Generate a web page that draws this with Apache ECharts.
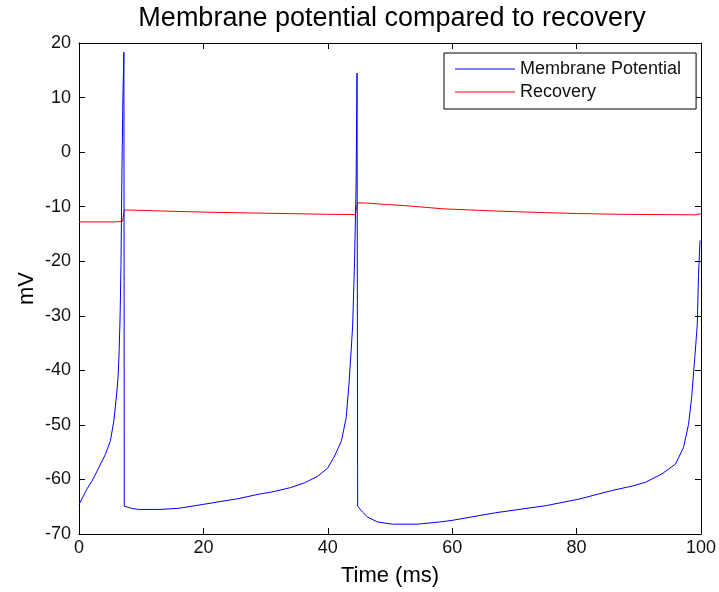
<!DOCTYPE html>
<html>
<head>
<meta charset="utf-8">
<script src="https://cdn.jsdelivr.net/npm/echarts@6/dist/echarts.min.js"></script>
<style>html,body{margin:0;padding:0;background:#fff;}#c{width:719px;height:592px;}</style>
</head>
<body>
<div id="c"></div>
<script>
// Membrane potential (ms, mV)
var vTime = [0, 1.3, 2.1, 3.2, 4.25, 5.05, 5.6, 6.1, 6.3, 6.45, 6.6, 6.75, 6.9, 7.06, 7.22, 7.28,
  8.5, 9.6, 13, 16, 19.8, 25.7, 28.9, 31.0, 34, 36.3, 38.4, 40.0, 41.1, 42.2, 42.95, 43.4, 43.75, 44.0, 44.3, 44.55, 44.7, 44.8,
  45.6, 46.4, 48, 50.4, 54.4, 58, 60, 67, 75.1, 80.4, 85.8, 89, 91.1, 93.7, 95.9, 97.2, 98.0, 98.5, 99.0, 99.4, 99.6, 99.85];
var vValues = [-64.6, -61.7, -60.3, -57.8, -55.4, -52.9, -49.3, -43.8, -41, -36.5, -30.5, -20.8, -4, 10, 18.3, -64.9,
  -65.3, -65.5, -65.5, -65.3, -64.6, -63.5, -62.7, -62.3, -61.5, -60.6, -59.4, -57.9, -55.7, -52.9, -48.7, -42.6, -36.5, -31.7, -20, -6.2, 14.5, -64.9,
  -66.0, -66.9, -67.8, -68.2, -68.2, -67.8, -67.5, -66.1, -64.8, -63.6, -62.0, -61.2, -60.5, -59.0, -57.2, -54.1, -49.9, -45.0, -37.7, -31.7, -22.6, -16.2];
// Recovery variable
var uTime = [0, 5.7, 5.8, 7.0, 7.3, 12, 20, 30, 40, 44.4, 44.6, 44.8, 46.4, 49.3, 52.3, 55.5, 58.6, 67, 75, 80, 87, 99, 100];
var uValues = [-12.8, -12.8, -12.7, -12.7, -10.6, -10.75, -11.0, -11.2, -11.4, -11.45, -11.2, -9.3, -9.35, -9.6, -9.8, -10.1, -10.4, -10.8, -11.1, -11.25, -11.4, -11.5, -11.3];

var xTicks = [0, 20, 40, 60, 80, 100];
var yTicks = [-70, -60, -50, -40, -30, -20, -10, 0, 10, 20];

var seriesNames = ['Membrane Potential', 'Recovery'];
var titleText = 'Membrane potential compared to recovery';
var xName = 'Time (ms)';
var yName = 'mV';

function pairs(xs, ys) { return xs.map(function (x, i) { return [x, ys[i]]; }); }

var FONT = '"Liberation Sans", Arial, sans-serif';
var axisCommon = {
  axisLine: { show: true, onZero: false, lineStyle: { color: '#000', width: 1 } },
  axisTick: { show: true, inside: true, length: 6, lineStyle: { color: '#000', width: 1 } },
  splitLine: { show: false }
};

var chart = echarts.init(document.getElementById('c'), null, { renderer: 'canvas' });
chart.setOption({
  animation: false,
  backgroundColor: '#fff',
  title: {
    text: titleText,
    left: 392,
    textAlign: 'center',
    top: 5,
    padding: 0,
    textStyle: { fontFamily: FONT, fontSize: 27, fontWeight: 'normal', color: '#000' }
  },
  legend: {
    orient: 'vertical',
    left: 444,
    top: 53,
    padding: [7, 15, 8, 11],
    itemGap: 5,
    itemWidth: 60,
    itemHeight: 1,
    icon: 'rect',
    borderColor: '#000',
    borderWidth: 1,
    backgroundColor: '#fff',
    data: seriesNames,
    textStyle: { fontFamily: FONT, fontSize: 18, color: '#111' }
  },
  grid: { left: 79, top: 43, width: 627, height: 494, containLabel: false },
  xAxis: [
    Object.assign({
      type: 'value', position: 'bottom', min: xTicks[0], max: xTicks[xTicks.length - 1], interval: 20,
      name: xName, nameLocation: 'middle', nameGap: 31,
      nameTextStyle: { fontFamily: FONT, fontSize: 22, color: '#000' },
      axisLabel: { margin: 5, fontFamily: FONT, fontSize: 18, color: '#111' }
    }, axisCommon),
    Object.assign({
      type: 'value', position: 'top', min: xTicks[0], max: xTicks[xTicks.length - 1], interval: 20,
      axisLabel: { show: false }
    }, axisCommon)
  ],
  yAxis: [
    Object.assign({
      type: 'value', position: 'left', min: yTicks[0], max: yTicks[yTicks.length - 1], interval: 10,
      name: yName, nameLocation: 'middle', nameGap: 41, nameMoveOverlap: false,
      nameTextStyle: { fontFamily: FONT, fontSize: 22, color: '#000' },
      axisLabel: { margin: 8, fontFamily: FONT, fontSize: 18, color: '#111' }
    }, axisCommon),
    Object.assign({
      type: 'value', position: 'right', min: yTicks[0], max: yTicks[yTicks.length - 1], interval: 10,
      axisLabel: { show: false }
    }, axisCommon)
  ],
  series: [
    {
      name: seriesNames[0], type: 'line', xAxisIndex: 0, yAxisIndex: 0,
      data: pairs(vTime, vValues), showSymbol: false, symbol: 'none',
      lineStyle: { color: '#0000ff', width: 1 }, itemStyle: { color: '#0000ff' }, z: 3
    },
    {
      name: seriesNames[1], type: 'line', xAxisIndex: 0, yAxisIndex: 0,
      data: pairs(uTime, uValues), showSymbol: false, symbol: 'none',
      lineStyle: { color: '#ff0000', width: 1 }, itemStyle: { color: '#ff0000' }, z: 2
    }
  ]
});
</script>
</body>
</html>
